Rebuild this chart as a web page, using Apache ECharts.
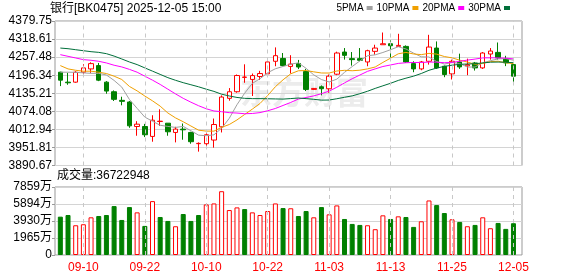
<!DOCTYPE html>
<html><head><meta charset="utf-8">
<script src="https://cdn.jsdelivr.net/npm/echarts@6/dist/echarts.min.js"></script>
<style>html,body{margin:0;padding:0;background:#fff}#c{width:578px;height:276px}</style>
</head><body><div id="c"></div>
<script>
const dates = ['09-05','09-08','09-09','09-10','09-11','09-12','09-15','09-16','09-17','09-18','09-19','09-22','09-23','09-24','09-25','09-26','09-29','09-30','10-09','10-10','10-13','10-14','10-15','10-16','10-17','10-20','10-21','10-22','10-23','10-24','10-27','10-28','10-29','10-30','10-31','11-03','11-04','11-05','11-06','11-07','11-10','11-11','11-12','11-13','11-14','11-17','11-18','11-19','11-20','11-21','11-24','11-25','11-26','11-27','11-28','12-01','12-02','12-03','12-04','12-05'];
const opens = [4206.4,4172.8,4172.8,4206.4,4217.6,4228.8,4172.8,4140.3,4111.2,4105.6,4022.7,4022.7,3989.1,4039.6,4033.9,4002.5,4013.8,4002.5,3964.6,3964.4,3976.8,4021.6,4118.0,4140.3,4189.0,4182.0,4192.0,4200.8,4243.4,4253.0,4226.0,4236.0,4208.6,4148.2,4157.1,4150.4,4199.7,4274.7,4252.3,4252.3,4241.1,4277.0,4299.4,4302.8,4293.8,4293.8,4235.5,4217.6,4243.4,4288.2,4226.6,4200.8,4241.1,4228.0,4237.8,4221.0,4268.0,4273.5,4251.0,4232.2];
const closes = [4179.5,4170.6,4206.4,4221.0,4235.5,4179.5,4142.6,4114.6,4107.8,4024.9,4030.5,3994.7,4044.0,4040.6,4004.8,4013.8,4011.5,3971.2,3965.6,3994.7,4029.4,4122.4,4140.3,4195.2,4190.0,4195.0,4202.0,4241.1,4262.4,4229.0,4234.0,4224.0,4148.2,4151.5,4150.5,4193.0,4271.4,4263.5,4249.0,4246.7,4279.2,4288.2,4302.8,4296.0,4297.2,4241.1,4217.6,4241.1,4291.6,4221.0,4198.6,4243.4,4224.3,4232.0,4221.0,4271.4,4278.1,4254.7,4238.0,4193.0];
const lows = [4159.4,4163.9,4170.6,4193.0,4204.2,4176.2,4133.6,4109.0,4094.4,4018.2,3991.4,3986.9,3971.2,4024.9,3991.4,3968.9,3977.9,3964.4,3937.6,3951.0,3951.0,4002.5,4110.0,4137.0,4170.6,4125.8,4180.0,4196.3,4226.6,4226.6,4202.0,4217.0,4142.6,4146.0,4128.0,4137.0,4196.3,4249.0,4228.8,4243.4,4226.6,4265.8,4299.4,4251.2,4293.8,4237.8,4206.4,4213.1,4232.2,4217.6,4189.6,4181.8,4217.6,4196.3,4212.0,4217.6,4249.0,4249.0,4227.0,4172.7];
const highs = [4208.0,4204.2,4209.8,4233.3,4240.0,4237.8,4176.2,4144.8,4123.5,4109.0,4040.6,4031.6,4060.8,4080.9,4033.9,4021.6,4032.8,4004.8,3968.9,4000.3,4049.6,4128.0,4152.7,4198.6,4233.2,4202.0,4211.0,4249.0,4290.4,4271.4,4264.0,4248.0,4217.6,4153.0,4161.6,4198.6,4275.9,4288.2,4274.7,4288.2,4282.6,4299.4,4340.8,4314.0,4336.4,4297.2,4243.4,4244.5,4333.0,4310.6,4228.8,4249.0,4269.2,4252.3,4241.1,4274.7,4288.2,4307.0,4262.0,4234.4];
const ma5 = [4206.4,4206.4,4206.0,4204.2,4202.6,4202.6,4197.0,4178.6,4156.0,4113.9,4084.1,4054.5,4040.4,4026.9,4022.9,4019.6,4022.9,4008.4,3993.4,3991.4,3994.5,4016.7,4050.5,4096.4,4135.5,4168.6,4184.5,4204.7,4218.1,4225.9,4233.7,4238.1,4219.5,4197.3,4181.6,4173.4,4182.9,4206.0,4225.5,4244.7,4262.0,4265.3,4273.2,4282.6,4292.7,4285.1,4270.9,4258.6,4257.7,4242.5,4234.0,4239.1,4235.8,4223.9,4223.9,4238.4,4245.4,4251.4,4252.6,4247.0];
const ma10 = [4228.8,4217.6,4213.0,4209.8,4209.8,4206.4,4202.0,4193.0,4181.8,4158.2,4143.3,4125.8,4109.5,4091.5,4068.4,4051.8,4038.7,4024.4,4010.2,4007.1,4007.0,4019.8,4029.4,4044.9,4063.4,4081.5,4100.6,4127.6,4157.3,4180.7,4201.1,4211.3,4212.1,4207.7,4203.8,4203.6,4210.5,4212.8,4211.4,4213.2,4217.7,4224.1,4239.6,4254.0,4268.7,4273.5,4268.1,4265.9,4270.2,4267.6,4259.5,4255.0,4247.2,4240.8,4233.2,4236.2,4242.3,4243.6,4238.3,4235.5];
const ma20 = [4265.8,4260.2,4254.6,4249.0,4246.8,4243.4,4237.8,4230.0,4224.3,4216.0,4206.4,4193.0,4179.5,4165.0,4149.0,4133.0,4118.0,4105.0,4093.0,4082.7,4075.2,4072.8,4069.5,4068.2,4065.9,4066.7,4069.7,4076.0,4083.7,4093.9,4104.1,4115.6,4120.8,4126.3,4133.6,4142.6,4155.5,4170.2,4184.3,4196.9,4209.4,4217.7,4225.8,4230.9,4236.2,4238.5,4239.3,4239.3,4240.8,4240.4,4238.6,4239.6,4243.4,4247.4,4250.9,4254.9,4255.2,4254.8,4254.2,4251.5];
const ma30 = [4288.2,4286.0,4282.6,4279.2,4275.9,4273.6,4269.2,4261.0,4251.2,4241.0,4232.2,4221.0,4210.0,4199.0,4188.0,4179.0,4171.0,4164.0,4157.0,4149.0,4141.5,4132.0,4126.0,4121.0,4118.0,4117.0,4117.0,4116.5,4116.0,4115.4,4117.2,4119.0,4117.0,4114.7,4111.9,4112.3,4116.6,4121.6,4126.3,4133.7,4142.0,4151.7,4160.4,4168.9,4178.6,4186.2,4193.1,4202.1,4212.9,4220.5,4226.1,4230.2,4233.0,4234.2,4235.2,4237.8,4240.3,4240.8,4240.0,4238.7];
const volumes = [4431,4622,3438,3553,4355,4508,4622,5654,4049,5539,4928,3362,6227,4393,3935,3323,4737,3935,4622,5845,5959,7373,5195,5501,5310,4928,4622,5081,5959,5424,5400,4508,5081,4355,5539,4699,5730,4164,3591,3476,3438,2980,4584,4164,4469,4393,3247,3896,6303,5768,4851,4126,3820,3323,3476,4355,3094,3705,3018,3672.29];
const volDir = [-1,-1,1,1,1,-1,-1,-1,-1,-1,1,-1,1,-1,-1,1,-1,-1,-1,1,1,1,1,1,-1,1,1,1,1,-1,1,-1,-1,1,-1,1,1,-1,-1,-1,1,1,1,-1,1,-1,-1,1,1,-1,-1,1,-1,1,-1,1,1,-1,-1,-1];
const priceTicks = ['3890.67','3951.81','4012.94','4074.08','4135.21','4196.34','4257.48','4318.61','4379.75'];
const volTicks = ['0','1965万','3930万','5894万','7859万'];
const volTickValues = [0,1965,3930,5894,7859];
const titleText = '银行[BK0475] 2025-12-05 15:00';
const lastVolumeText = '成交量:36722948';
const maNames = ['5PMA','10PMA','20PMA','30PMA'];

const FONT = '"Liberation Sans","Noto Sans CJK SC",sans-serif';
const pMin = parseFloat(priceTicks[0]);
const pMax = parseFloat(priceTicks[priceTicks.length - 1]);
const pInt = (pMax - pMin) / (priceTicks.length - 1);
const vMax = volTickValues[volTickValues.length - 1];
const vInt = vMax / (volTickValues.length - 1);
function nearestLabel(v, vals, labels) {
  let b = 0, bd = Infinity;
  vals.forEach((t, i) => { const d = Math.abs(t - v); if (d < bd) { bd = d; b = i; } });
  return labels[b];
}
const priceVals = priceTicks.map(parseFloat);
const candleData = dates.map((d, i) => [opens[i], closes[i], lows[i], highs[i]]);
const volData = volumes.map((v, i) => ({
  value: v,
  itemStyle: volDir[i] > 0 ? { color: '#ffffff', borderColor: '#ff0000', borderWidth: 1 } : { color: '#008000', borderColor: '#008000', borderWidth: 1 }
}));
const labelInterval = (idx) => idx % 8 === 3;
const dashDates = dates.filter((d, i) => labelInterval(i));
const dashStyle = { type: [4, 4], color: '#c8c8c8', width: 1 };
function guideSeries(xi, yi) {
  return {
    type: 'line', name: 'guide' + xi, xAxisIndex: xi, yAxisIndex: yi, data: [], z: 1, silent: true,
    markLine: { silent: true, symbol: ['none', 'none'], label: { show: false }, lineStyle: dashStyle,
      animation: false, data: dashDates.map(d => ({ xAxis: d })) }
  };
}

const GL = 56.5, GW = 460.8;
const chart = echarts.init(document.getElementById('c'), null, { renderer: 'canvas' });
const maColors = ['#a0a0a0', '#f0a000', '#ff00ff', '#006f3a'];
const maData = [ma5, ma10, ma20, ma30];
chart.setOption({
  animation: false,
  backgroundColor: '#ffffff',
  textStyle: { fontFamily: FONT },
  title: [
    { text: titleText, left: 50, top: 3, padding: 0, textStyle: { fontSize: 12, fontWeight: 'normal', color: '#000', fontFamily: FONT } },
    { text: lastVolumeText, left: 57, top: 170, padding: 0, textStyle: { fontSize: 12, fontWeight: 'normal', color: '#000', fontFamily: FONT } }
  ],
  legend: {
    data: maNames, right: 68, top: 3, padding: 0, align: 'right', icon: 'rect',
    itemWidth: 6, itemHeight: 4, itemGap: 4,
    textStyle: { fontSize: 10, color: '#000', fontFamily: FONT, padding: [0, -2, 0, 0] }
  },
  graphic: [{
    type: 'text', left: 240, top: 76, z: -10, silent: true,
    style: { text: '东方财富', font: 'bold 32px "Noto Sans CJK SC"', fill: '#ececec' }
  }],
  grid: [
    { left: GL, width: GW, top: 21, height: 144.5 },
    { left: GL, width: GW, top: 187, height: 68 },
    { left: 55, width: 467, top: 21, height: 144.5, show: true, borderColor: '#999', borderWidth: 1, backgroundColor: 'transparent' },
    { left: 55, width: 467, top: 187, height: 68, show: true, borderColor: '#999', borderWidth: 1, backgroundColor: 'transparent' }
  ],
  xAxis: [
    { type: 'category', gridIndex: 0, data: dates, boundaryGap: true,
      axisLine: { show: false }, axisLabel: { show: false }, splitLine: { show: false }, axisTick: { show: false } },
    { type: 'category', gridIndex: 1, data: dates, boundaryGap: true,
      axisLine: { show: false }, splitLine: { show: false }, axisTick: { show: false },
      axisLabel: { show: true, interval: labelInterval, color: '#ff0000', fontSize: 12, margin: 7, fontFamily: FONT } },
    { type: 'value', gridIndex: 2, show: false, min: 0, max: 1 },
    { type: 'value', gridIndex: 3, show: false, min: 0, max: 1 }
  ],
  yAxis: [
    { type: 'value', gridIndex: 0, min: pMin, max: pMax, show: false, splitLine: { show: false } },
    { type: 'value', gridIndex: 1, min: 0, max: vMax, show: false, splitLine: { show: false } },
    { type: 'value', gridIndex: 2, min: pMin, max: pMax, interval: pInt,
      axisLine: { show: false },
      axisTick: { show: true, length: 3, lineStyle: { color: '#999' } },
      axisLabel: { margin: 3, fontSize: 12, color: '#000', fontFamily: FONT, formatter: v => nearestLabel(v, priceVals, priceTicks) },
      splitLine: { show: true, lineStyle: { color: '#d4d4d4', width: 1 } } },
    { type: 'value', gridIndex: 3, min: 0, max: vMax, interval: vInt,
      axisLine: { show: false },
      axisTick: { show: true, length: 3, lineStyle: { color: '#999' } },
      axisLabel: { margin: 3, fontSize: 12, color: '#000', fontFamily: FONT, formatter: v => nearestLabel(v, volTickValues, volTicks) },
      splitLine: { show: true, lineStyle: { color: '#d4d4d4', width: 1 } } }
  ],
  series: [
    guideSeries(0, 0),
    guideSeries(1, 1),
    { type: 'candlestick', name: 'K', xAxisIndex: 0, yAxisIndex: 0, data: candleData, barWidth: 5, z: 2,
      itemStyle: { color: '#ffffff', borderColor: '#ff0000', color0: '#008000', borderColor0: '#008000', borderWidth: 1 } },
    ...maNames.map((n, k) => ({
      type: 'line', name: n, xAxisIndex: 0, yAxisIndex: 0, data: maData[k], symbol: 'none', smooth: false,
      lineStyle: { color: maColors[k], width: 1 }, itemStyle: { color: maColors[k] }, z: 3
    })),
    { type: 'bar', name: 'VOL', xAxisIndex: 1, yAxisIndex: 1, data: volData, barWidth: 5, z: 2 }
  ]
});
</script>
</body></html>
